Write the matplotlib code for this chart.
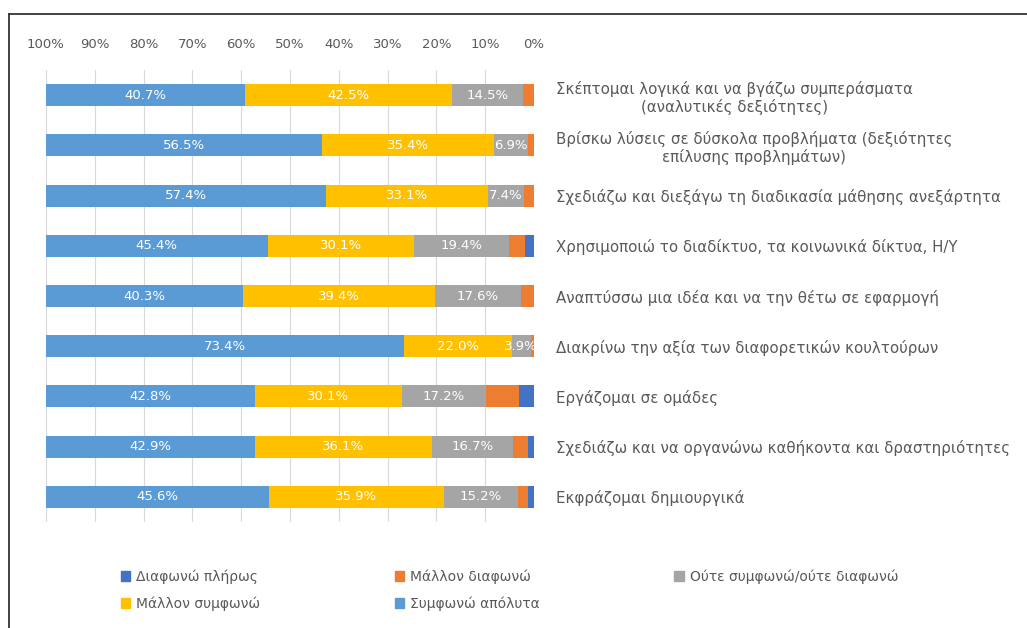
import numpy as np
import matplotlib
matplotlib.use("Agg")
import matplotlib.pyplot as plt
from matplotlib.lines import Line2D
from matplotlib.patches import Patch

FONTSIZE = 10
TEXT = '#595959'

categories = [
    'Σκέπτομαι λογικά και να βγάζω συμπεράσματα\n(αναλυτικές δεξιότητες)',
    'Βρίσκω λύσεις σε δύσκολα προβλήματα (δεξιότητες\nεπίλυσης προβλημάτων)',
    'Σχεδιάζω και διεξάγω τη διαδικασία μάθησης ανεξάρτητα',
    'Χρησιμοποιώ το διαδίκτυο, τα κοινωνικά δίκτυα, Η/Υ',
    'Αναπτύσσω μια ιδέα και να την θέτω σε εφαρμογή',
    'Διακρίνω την αξία των διαφορετικών κουλτούρων',
    'Εργάζομαι σε ομάδες',
    'Σχεδιάζω και να οργανώνω καθήκοντα και δραστηριότητες',
    'Εκφράζομαι δημιουργικά',
]

series_names = ['Διαφωνώ πλήρως', 'Μάλλον διαφωνώ', 'Ούτε συμφωνώ/ούτε διαφωνώ',
                'Μάλλον συμφωνώ', 'Συμφωνώ απόλυτα']
colors = ['#4472C4', '#ED7D31', '#A5A5A5', '#FFC000', '#5B9BD5']

diafono_pliros = [0.0, 0.0, 0.0, 1.9, 0.0, 0.0, 3.1, 1.3, 1.3]
mallon_diafono = [2.3, 1.2, 2.1, 3.2, 2.7, 0.7, 6.8, 3.0, 2.0]
oute = [14.5, 6.9, 7.4, 19.4, 17.6, 3.9, 17.2, 16.7, 15.2]
mallon_symfono = [42.5, 35.4, 33.1, 30.1, 39.4, 22.0, 30.1, 36.1, 35.9]
symfono_apolyta = [40.7, 56.5, 57.4, 45.4, 40.3, 73.4, 42.8, 42.9, 45.6]

data = [diafono_pliros, mallon_diafono, oute, mallon_symfono, symfono_apolyta]

fig = plt.figure(figsize=(10.27, 6.28), dpi=100)
ax = fig.add_axes([46 / 1027, 1 - 522 / 628, (534 - 46) / 1027, (522 - 70) / 628])

y = np.arange(len(categories))
left = np.zeros(len(categories))
for vals, name, col in zip(data, series_names, colors):
    vals = np.array(vals)
    ax.barh(y, vals, left=left, height=0.44, color=col, label=name)
    for yi, (l, v) in enumerate(zip(left, vals)):
        if v >= 3.5 and name not in ('Διαφωνώ πλήρως', 'Μάλλον διαφωνώ'):
            ax.text(l + v / 2, yi, f'{v:.1f}%', ha='center', va='center',
                    color='white', fontsize=9.5)
    left = left + vals

ax.set_xlim(100, 0)
ax.set_ylim(len(categories) - 0.5, -0.5)
ax.set_xticks(np.arange(0, 101, 10))
ax.set_xticklabels([f'{t}%' for t in range(0, 101, 10)])
ax.xaxis.tick_top()
ax.tick_params(axis='x', length=0, pad=14, labelsize=9.5, labelcolor=TEXT)
ax.yaxis.tick_right()
ax.set_yticks(y)
ax.set_yticklabels(categories)
ax.tick_params(axis='y', length=0, pad=16, labelsize=10.8, labelcolor=TEXT)
for lbl in ax.get_yticklabels():
    lbl.set_multialignment('center')
ax.grid(axis='x', color='#D9D9D9', linewidth=0.8)
ax.set_axisbelow(True)
for s in ax.spines.values():
    s.set_visible(False)

# legend row-major: reorder for column filling
order = [0, 3, 1, 4, 2]
handles = [Patch(color=colors[i], label=series_names[i]) for i in order]
leg = fig.legend(handles=handles, ncol=3, loc='upper left',
                 bbox_to_anchor=(108 / 1027, 1 - 557 / 628), frameon=False,
                 fontsize=FONTSIZE, handlelength=0.7, handleheight=0.7,
                 handletextpad=0.4, columnspacing=9.7, labelspacing=0.9)
for t in leg.get_texts():
    t.set_color(TEXT)

# outer frame lines (top and left)
fig.add_artist(Line2D([9 / 1027, 1], [1 - 14 / 628, 1 - 14 / 628], color='#333333', lw=1.3))
fig.add_artist(Line2D([9 / 1027, 9 / 1027], [0, 1 - 14 / 628], color='#333333', lw=1.3))

fig.savefig('out.png', dpi=100)
